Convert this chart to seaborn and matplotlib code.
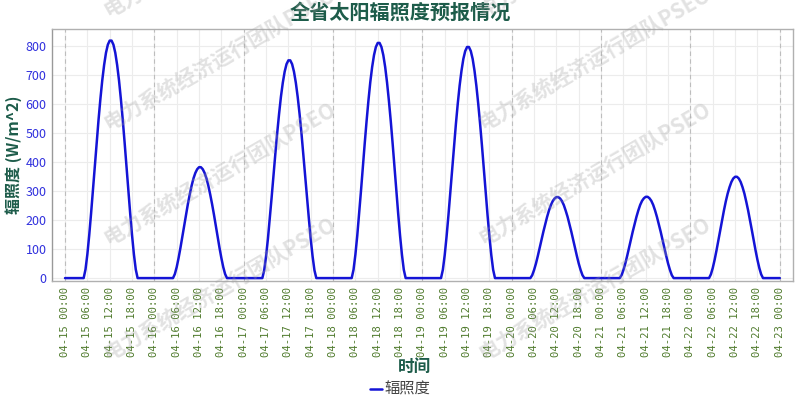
import pandas as pd
import numpy as np
import matplotlib
matplotlib.use('Agg')
import matplotlib.pyplot as plt
import matplotlib.dates as mdates
import seaborn as sns

sns.set_style('white')
plt.rcParams['font.family'] = ['Noto Sans CJK SC', 'DejaVu Sans']
plt.rcParams['axes.unicode_minus'] = False

#%% data: half-hourly irradiance (W/m^2), 04-15 00:00 .. 04-23 00:00
days = ['2024-04-15', '2024-04-16', '2024-04-17', '2024-04-18',
        '2024-04-19', '2024-04-20', '2024-04-21', '2024-04-22']
night_am = [0] * 11                # 00:00 - 05:00
night_pm = [0] * 9                 # 19:30 - 23:30
# 05:30 .. 19:00
day15 = [30, 82, 148, 223, 303, 386, 467, 545, 617, 681, 734, 776, 804, 818,
         818, 804, 776, 734, 681, 617, 546, 468, 385, 303, 223, 148, 82, 30]
day16 = [14, 38, 69, 104, 142, 180, 218, 255, 288, 318, 343, 362, 375, 382,
         382, 375, 362, 343, 318, 288, 255, 219, 180, 142, 104, 69, 38, 14]
day17 = [27, 75, 135, 205, 278, 354, 429, 500, 566, 625, 673, 711, 737, 750,
         750, 737, 711, 673, 624, 566, 501, 429, 353, 278, 205, 135, 75, 27]
day18 = [29, 81, 146, 221, 300, 382, 463, 540, 611, 675, 727, 768, 796, 810,
         810, 796, 768, 727, 674, 611, 541, 464, 382, 300, 221, 146, 81, 29]
day19 = [29, 80, 144, 217, 295, 376, 455, 531, 601, 663, 714, 755, 782, 796,
         796, 782, 755, 714, 662, 600, 531, 456, 375, 295, 217, 144, 80, 29]
day20 = [10, 28, 50, 76, 104, 132, 160, 186, 211, 233, 251, 265, 274, 279,
         279, 274, 265, 251, 232, 211, 186, 160, 132, 104, 76, 50, 28, 10]
day21 = [10, 28, 50, 76, 104, 132, 160, 186, 211, 233, 252, 266, 275, 280,
         280, 275, 266, 252, 233, 211, 186, 160, 132, 104, 76, 50, 28, 10]
day22 = [13, 35, 63, 95, 130, 165, 200, 233, 264, 291, 313, 331, 343, 349,
         349, 343, 331, 313, 291, 263, 233, 200, 165, 130, 95, 63, 35, 13]
last_value = [0]                   # 04-23 00:00

irr = []
for d in [day15, day16, day17, day18, day19, day20, day21, day22]:
    irr += night_am + d + night_pm
irr += last_value

times = pd.date_range(days[0], periods=len(irr), freq='30min')
df = pd.DataFrame({'时间': times, '辐照度': irr})

#%% plot
fig = plt.figure(figsize=(8, 4), dpi=100)
ax = fig.add_axes([0.065, 0.2975, 0.926, 0.63])

sns.lineplot(data=df, x='时间', y='辐照度', color='#1414d6', linewidth=1.8,
             label='辐照度', ax=ax)

ax.set_xlim(times[0] - pd.Timedelta(hours=3.5), times[-1] + pd.Timedelta(hours=3.5))
ax.set_ylim(-10, 858)
ax.set_yticks(np.arange(0, 801, 100))
ax.xaxis.set_major_locator(mdates.HourLocator(byhour=[0, 6, 12, 18]))
ax.xaxis.set_major_formatter(mdates.DateFormatter('%m-%d %H:%M'))
plt.setp(ax.get_xticklabels(), rotation=90, color='#4f7a2c',
         family=['DejaVu Sans Mono'], fontsize=7.6)
plt.setp(ax.get_yticklabels(), color='#3030dd', fontsize=9)
ax.tick_params(axis='both', length=0, pad=4)

ax.grid(True, color='#ececec', linewidth=0.8)
for d in pd.date_range(days[0], periods=9, freq='D'):
    ax.axvline(d, color='#bdbdbd', linestyle=(0, (4, 3)), linewidth=0.8, zorder=1)

for s in ax.spines.values():
    s.set_color('#b0b0b0')
    s.set_linewidth(1)
ax.spines['left'].set_color('#999999')

fig.suptitle('全省太阳辐照度预报情况', x=0.5, y=0.995, fontsize=14.5,
             fontweight='bold', color='#1d5c4a')
ax.set_ylabel('辐照度 (W/m^2)', fontsize=11.5, fontweight='bold', color='#1d5c4a')
ax.yaxis.set_label_coords(-0.04, 0.5)
ax.set_xlabel('时间', fontsize=12, fontweight='bold', color='#1d5c4a')
ax.xaxis.set_label_coords(0.49, -0.305)

leg = ax.legend(loc='center', bbox_to_anchor=(0.47, -0.43), frameon=False,
                handlelength=0.8, handletextpad=0.2, fontsize=11)
for t in leg.get_texts():
    t.set_color('#444444')

# watermark
marks_x = [108, 483]
marks_y = [17, 130, 245, 360]
for mx in marks_x:
    for my in marks_y:
        fig.text(mx / 800, 1 - my / 400, '电力系统经济运行团队PSEO', rotation=30,
                 rotation_mode='anchor', ha='left', va='baseline',
                 fontsize=15, fontweight='bold', color='#a0a0a0', alpha=0.3,
                 zorder=10)

fig.savefig('out.png', dpi=100)
